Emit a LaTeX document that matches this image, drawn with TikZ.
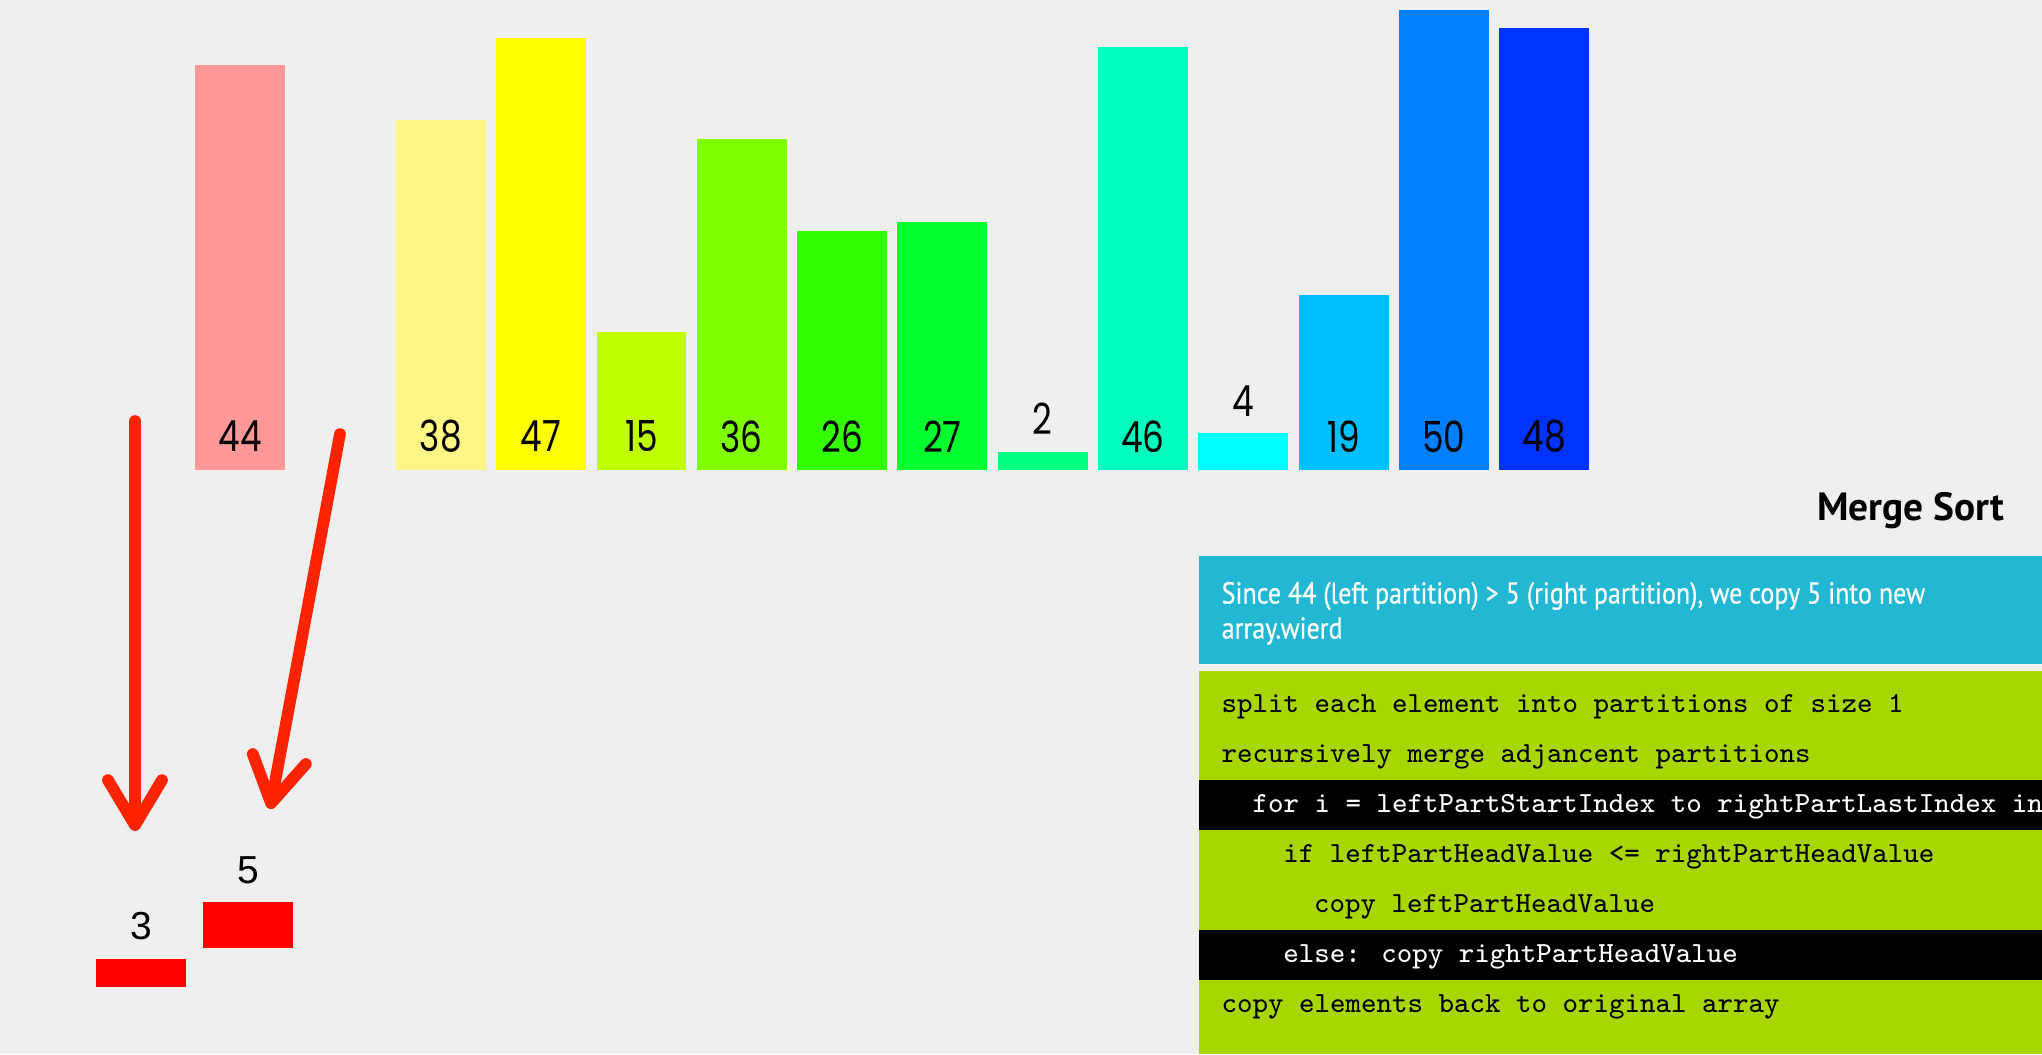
\documentclass[tikz,border=0pt]{standalone}
\usepackage{fontspec}
\setmainfont{Liberation Sans}
\newfontfamily\barfont[FakeStretch=0.8]{Poppins}
\newfontfamily\panelfont[FakeStretch=0.86,FakeBold=0.5]{PT Sans}
\newfontfamily\titlefont{PT Sans}
\usepackage{tikz}
\usetikzlibrary{arrows.meta}
\definecolor{bggray}{HTML}{EFEFEF}
\definecolor{arrowred}{HTML}{FF2400}
\definecolor{newred}{HTML}{FF0000}
\definecolor{infoblue}{HTML}{22B8D4}
\definecolor{codegreen}{HTML}{A8D600}
\definecolor{c44}{HTML}{FF9896}
\definecolor{c38}{HTML}{FFF685}
\definecolor{c47}{HTML}{FFFF00}
\definecolor{c15}{HTML}{BFFF00}
\definecolor{c36}{HTML}{80FF00}
\definecolor{c26}{HTML}{33FF00}
\definecolor{c27}{HTML}{00FF2E}
\definecolor{c2}{HTML}{00FF80}
\definecolor{c46}{HTML}{00FFBF}
\definecolor{c4}{HTML}{00FFFF}
\definecolor{c19}{HTML}{00BFFF}
\definecolor{c50}{HTML}{0080FF}
\definecolor{c48}{HTML}{0033FF}

\begin{document}
\begin{tikzpicture}[x=0.01cm, y=-0.01cm,
  barlabel/.style={font=\barfont\fontsize{12.2}{14}\selectfont, inner sep=0pt},
  newlabel/.style={font=\fontsize{11.1}{13}\selectfont, inner sep=0pt},
  codeline/.style={font=\ttfamily\fontsize{8.3}{10}\selectfont, anchor=base west, inner sep=0pt},
  infoline/.style={font=\panelfont\fontsize{8.6}{10}\selectfont, text=white, anchor=base west, inner sep=0pt},
  movearrow/.style={arrowred, line width=0.117cm, line cap=round, -{Straight Barb[round, length=4.5mm 0, width=5.4mm 0]}}]
\fill[bggray] (0,0) rectangle (2042,1054);
\useasboundingbox (0,0) rectangle (2042,1054);
\foreach \i/\v in {0/44, 2/38, 3/47, 4/15, 5/36, 6/26, 7/27, 8/2, 9/46, 10/4, 11/19, 12/50, 13/48} {
  \pgfmathsetmacro{\x}{195.3+100.3*\i}
  \pgfmathsetmacro{\h}{9.2*\v}
  \pgfmathsetmacro{\ly}{470-ifthenelse(\h<60,\h+32.5,33.5)}
  \fill[c\v] (\x,470) rectangle ++(89.9,-\h);
  \node[barlabel] (v\v) at (\x+44.95,\ly) {\v};
}
\fill[newred] (96,987) rectangle ++(90,-27.6);
\node[newlabel] (n3) at (141,926) {3};
\fill[newred] (203,947.5) rectangle ++(90,-46);
\node[newlabel] (n5) at (248,870) {5};
\coordinate (from3) at (135,421);
\coordinate (to3) at (135,831);
\coordinate (from5) at (340,434);
\coordinate (to5) at (270,809);
\draw[movearrow] (from3) -- (to3);
\draw[movearrow] (from5) -- (to5);
\node[font=\titlefont\bfseries\fontsize{11.2}{13}\selectfont, anchor=base east, inner sep=0pt] (title) at (2005,520) {Merge Sort};
\begin{scope}
\clip (1199,556) rectangle (2042,1054);
\fill[infoblue] (1199,556) rectangle (2042,664);
\node[infoline] (info1) at (1221,603.5) {Since 44 (left partition) > 5 (right partition), we copy 5 into new};
\node[infoline] (info2) at (1221,638.5) {array.wierd};
\fill[codegreen] (1199,671) rectangle (2042,1054);
\foreach \k in {2,5} \fill[black] (1199,680+50*\k) rectangle (2042,730+50*\k);
\foreach \k/\ind/\col/\txt in {0/0/black/{split each element into partitions of size 1},
  1/0/black/{recursively merge adjancent partitions},
  2/2/white/{for i = leftPartStartIndex to rightPartLastIndex inclusive},
  3/4/black/{if leftPartHeadValue <= rightPartHeadValue},
  4/6/black/{copy leftPartHeadValue},
  5/4/white/{else: copy rightPartHeadValue},
  6/0/black/{copy elements back to original array}}
  \node[codeline, text=\col] (code\k) at (1221+15.4*\ind,712.5+50*\k) {\txt};
\end{scope}
\end{tikzpicture}
\end{document}
